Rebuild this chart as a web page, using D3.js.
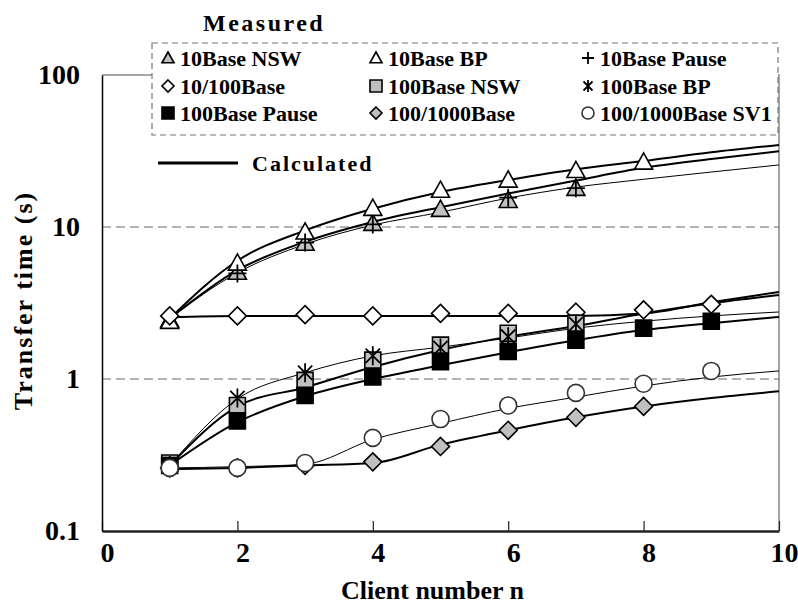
<!DOCTYPE html>
<html>
<head>
<meta charset="utf-8">
<script src="https://cdn.jsdelivr.net/npm/d3@7"></script>
<style>
  body { margin: 0; background: #fff; }
  text { font-family: "Liberation Serif", "Times New Roman", serif; font-weight: bold; }
</style>
</head>
<body>
<div id="container"></div>
<script>
// client numbers (measured go 1..9, calculated 1..10)
const clients = [1, 2, 3, 4, 5, 6, 7, 8, 9, 10];
const xTicks = [0, 2, 4, 6, 8, 10];
const yTicks = [0.1, 1, 10, 100];

// measured values, n = 1..9 (null = no point)
const m10NSW = [2.45, 5.05, 7.85, 10.6, 13.1, 15.0, 18.0, null, null];
const m10BP = [2.4, 5.8, 9.3, 13.3, 17.5, 20.4, 23.6, 26.8, null];
const m10Pause = [null, 4.95, 7.9, 10.4, null, 15.6, 18.0, null, null];
const m10_100 = [2.6, 2.6, 2.65, 2.6, 2.7, 2.7, 2.75, 2.85, 3.1];
const m100NSW = [0.28, 0.67, 0.98, 1.33, 1.67, 2.0, 2.33, null, null];
const m100BP = [0.27, 0.75, 1.1, 1.42, 1.6, 1.9, 2.3, null, null];
const m100Pause = [0.27, 0.53, 0.78, 1.03, 1.3, 1.52, 1.8, 2.16, 2.4];
const m1000 = [0.26, 0.26, 0.27, 0.285, 0.36, 0.46, 0.56, 0.66, null];
const m1000SV1 = [0.26, 0.26, 0.28, 0.41, 0.545, 0.67, 0.81, 0.93, 1.13];

// calculated values, n = 1..10
const c10BP = [2.5, 6.0, 9.5, 13.2, 17.0, 20.4, 24.0, 27.2, 31.0, 34.6];
const c10NSW = [2.5, 5.2, 8.0, 10.8, 13.5, 16.6, 20.2, 24.5, 28.0, 31.5];
const c10Pause = [2.5, 5.0, 7.7, 10.3, 12.5, 15.5, 18.3, 20.6, 23.0, 25.6];
const c10_100 = [2.55, 2.6, 2.6, 2.6, 2.6, 2.6, 2.6, 2.7, 3.2, 3.74];
const c100NSW = [0.27, 0.66, 0.88, 1.2, 1.55, 1.9, 2.23, 2.7, 3.15, 3.57];
const c100BP = [0.27, 0.74, 1.1, 1.42, 1.62, 1.86, 2.16, 2.4, 2.6, 2.76];
const c100Pause = [0.27, 0.52, 0.77, 1.0, 1.23, 1.5, 1.8, 2.1, 2.33, 2.56];
const c1000 = [0.255, 0.26, 0.27, 0.28, 0.37, 0.46, 0.56, 0.66, 0.75, 0.83];
const c1000SV1 = [0.26, 0.265, 0.275, 0.4, 0.51, 0.64, 0.76, 0.9, 1.03, 1.13];

const GRAY = "#c0c0c0";

const measured = [
  { name: "10Base NSW", values: m10NSW, shape: "tri", fill: GRAY },
  { name: "10Base BP", values: m10BP, shape: "tri", fill: "#fff" },
  { name: "10Base Pause", values: m10Pause, shape: "plus", fill: "none" },
  { name: "10/100Base", values: m10_100, shape: "diamond", fill: "#fff" },
  { name: "100Base NSW", values: m100NSW, shape: "square", fill: GRAY },
  { name: "100Base BP", values: m100BP, shape: "star", fill: "none" },
  { name: "100Base Pause", values: m100Pause, shape: "square", fill: "#000" },
  { name: "100/1000Base", values: m1000, shape: "diamond", fill: GRAY },
  { name: "100/1000Base SV1", values: m1000SV1, shape: "circle", fill: "#fff" }
];

const calculated = [
  { values: c10BP, w: 2 },
  { values: c10NSW, w: 2 },
  { values: c10Pause, w: 1 },
  { values: c10_100, w: 2 },
  { values: c100NSW, w: 2 },
  { values: c100BP, w: 1 },
  { values: c100Pause, w: 2 },
  { values: c1000, w: 2 },
  { values: c1000SV1, w: 1 }
];

// marker path, centred at 0,0
function shapePath(shape, s) {
  const h = s / 2;
  if (shape === "tri") return `M0,${-h}L${h},${h * 0.8}L${-h},${h * 0.8}Z`;
  if (shape === "diamond") return `M0,${-h}L${h},0L0,${h}L${-h},0Z`;
  if (shape === "square") return `M${-h},${-h}H${h}V${h}H${-h}Z`;
  if (shape === "plus") return `M${-h},0H${h}M0,${-h}V${h}`;
  if (shape === "star") {
    const d = h * 0.75;
    return `M0,${-h}V${h}M${-d},${-d}L${d},${d}M${d},${-d}L${-d},${d}`;
  }
  if (shape === "circle") return d3.symbol(d3.symbolCircle, Math.PI * h * h)();
  return "";
}

function addMarker(g, shape, fill, size) {
  const p = g.append("path").attr("d", shapePath(shape, size));
  if (shape === "plus" || shape === "star") {
    p.attr("fill", "none").attr("stroke", "#000").attr("stroke-width", 1.8);
  } else {
    p.attr("fill", fill)
      .attr("stroke", shape === "circle" ? "#333" : "#000")
      .attr("stroke-width", 1.6);
  }
  return p;
}

const W = 798, H = 606;
const margin = { top: 75, right: 19, bottom: 75, left: 102 };
const width = W - margin.left - margin.right;
const height = H - margin.top - margin.bottom;

const root = d3.select("#container").append("svg")
  .attr("width", W).attr("height", H)
  .style("background", "#fff");

const svg = root.append("g")
  .attr("transform", `translate(${margin.left},${margin.top})`);

const x = d3.scaleLinear().domain([0, 10]).range([0, width]);
const y = d3.scaleLog().domain([0.1, 100]).range([height, 0]);

// frame top / right (gray)
svg.append("path")
  .attr("d", `M0,0H${width}V${height}`)
  .attr("fill", "none").attr("stroke", "#888").attr("stroke-width", 1.5);

// dashed grid at 1 and 10
svg.append("g").selectAll("line")
  .data([1, 10]).enter().append("line")
  .attr("x1", 0).attr("x2", width)
  .attr("y1", d => y(d)).attr("y2", d => y(d))
  .attr("stroke", "#666").attr("stroke-width", 1)
  .attr("stroke-dasharray", "9,5");

// axes
const xAxis = svg.append("g")
  .attr("transform", `translate(0,${height})`)
  .call(d3.axisBottom(x).tickValues(xTicks).tickSizeInner(-10).tickSizeOuter(0).tickPadding(11).tickFormat(d3.format("d")));
xAxis.select(".domain").attr("stroke", "#222").attr("stroke-width", 2.5);
xAxis.selectAll(".tick line").attr("stroke", "#222").attr("stroke-width", 1.2);
xAxis.selectAll(".tick text").attr("font-size", 28).attr("fill", "#000")
  .attr("font-family", "Liberation Serif").attr("dx", 5);

const yAxis = svg.append("g")
  .call(d3.axisLeft(y).tickValues(yTicks).tickSize(0).tickPadding(22).tickFormat(d => d));
yAxis.select(".domain").attr("stroke", "#000").attr("stroke-width", 1.5);
yAxis.selectAll(".tick text").attr("font-size", 28).attr("fill", "#000")
  .attr("font-family", "Liberation Serif");

// axis titles
svg.append("text")
  .attr("x", width / 2 - 8).attr("y", height + 68)
  .attr("text-anchor", "middle").attr("font-size", 26)
  .text("Client number n");

svg.append("text")
  .attr("transform", `translate(${-70},${y(3) - 6}) rotate(-90)`)
  .attr("text-anchor", "middle").attr("font-size", 26)
  .attr("letter-spacing", 2)
  .text("Transfer time (s)");

// calculated lines
const line = d3.line()
  .x((d, i) => x(clients[i]))
  .y(d => y(d))
  .curve(d3.curveMonotoneX);

svg.append("g").selectAll("path")
  .data(calculated).enter().append("path")
  .attr("d", d => line(d.values))
  .attr("fill", "none").attr("stroke", "#000")
  .attr("stroke-width", d => d.w);

// measured markers
measured.forEach(s => {
  const g = svg.append("g");
  s.values.forEach((v, i) => {
    if (v == null) return;
    const size = s.shape === "circle" ? 17 : s.shape === "star" ? 19 : s.shape === "square" ? 16 : 18;
    const m = g.append("g").attr("transform", `translate(${x(clients[i])},${y(v)})`);
    addMarker(m, s.shape, s.fill, size);
  });
});

// legend box
const lg = root.append("g");
lg.append("rect")
  .attr("x", 152).attr("y", 43).attr("width", 626).attr("height", 92)
  .attr("fill", "#fff").attr("stroke", "#777").attr("stroke-width", 1.2)
  .attr("stroke-dasharray", "6,4");

root.append("text")
  .attr("x", 203).attr("y", 31).attr("font-size", 24)
  .attr("letter-spacing", 2.5)
  .text("Measured");

const colX = [168, 376, 588];
const rowY = [58, 86, 113];
measured.forEach((s, i) => {
  const cx = colX[i % 3], cy = rowY[Math.floor(i / 3)];
  const m = lg.append("g").attr("transform", `translate(${cx},${cy})`);
  addMarker(m, s.shape, s.fill, 12);
  lg.append("text")
    .attr("x", cx + 12).attr("y", cy + 7.5)
    .attr("font-size", 22)
    .text(s.name);
});

// calculated legend
root.append("line")
  .attr("x1", 158).attr("x2", 238).attr("y1", 163).attr("y2", 163)
  .attr("stroke", "#000").attr("stroke-width", 3);
root.append("text")
  .attr("x", 252).attr("y", 171).attr("font-size", 22)
  .attr("letter-spacing", 2)
  .text("Calculated");
</script>
</body>
</html>
